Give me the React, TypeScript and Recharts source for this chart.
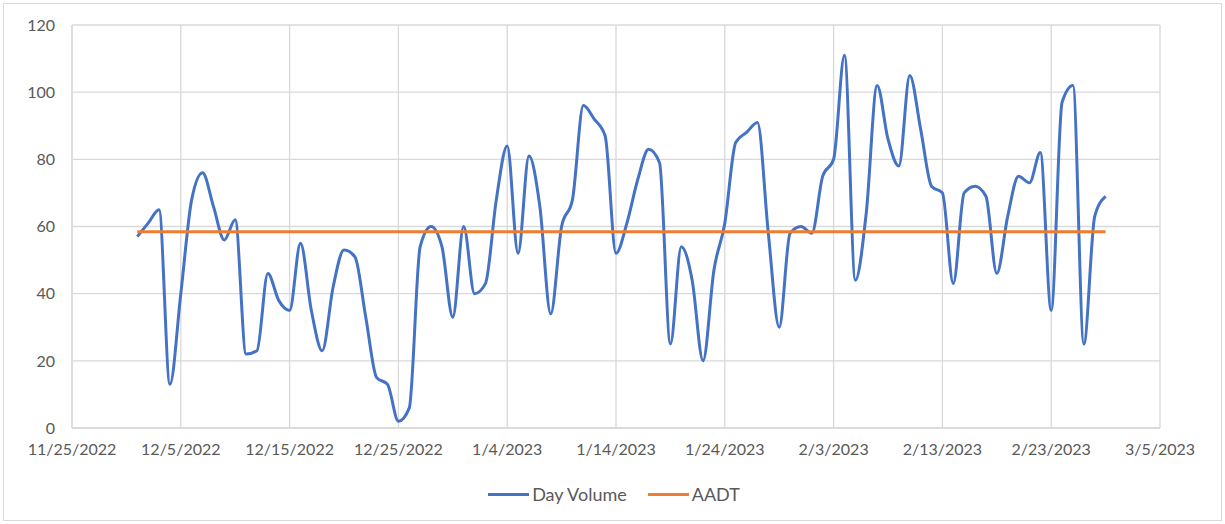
import {
  LineChart, Line,
  XAxis, YAxis,
  CartesianGrid, Legend,
} from 'recharts';

const COLOR_VOLUME = '#4472C4';
const COLOR_AADT = '#ED7D31';
const COLOR_GRID = '#D9D9D9';
const COLOR_TEXT = '#595959';
const FONT = 'Lato, "Open Sans", sans-serif';

const DAY = 86400000;
const FIRST_DAY = Date.UTC(2022, 11, 1); // 12/1/2022, one reading per day

// daily counts, 12/1/2022 .. 2/28/2023
const dayVolume = [
  57, 61, 65, 13, 40, 68, 76, 66, 56, 62,
  22, 23, 46, 38, 35, 55, 35, 23, 42, 53,
  51, 33, 15, 13, 2, 6, 54, 60, 54, 33,
  60, 40, 43, 68, 84, 52, 81, 66, 34, 60,
  68, 96, 92, 87, 52, 61, 74, 83, 79, 25,
  54, 44, 20, 47, 61, 85, 88, 91, 58, 30,
  58, 60, 58, 75, 80, 111, 44, 64, 102, 86,
  78, 105, 89, 72, 70, 43, 70, 72, 69, 46,
  63, 75, 73, 82, 35, 97, 102, 25, 63, 69,
];
const aadt = 58.4;

const xTicks = [
  Date.UTC(2022, 10, 25), Date.UTC(2022, 11, 5), Date.UTC(2022, 11, 15),
  Date.UTC(2022, 11, 25), Date.UTC(2023, 0, 4), Date.UTC(2023, 0, 14),
  Date.UTC(2023, 0, 24), Date.UTC(2023, 1, 3), Date.UTC(2023, 1, 13),
  Date.UTC(2023, 1, 23), Date.UTC(2023, 2, 5),
];
const yTicks = [0, 20, 40, 60, 80, 100, 120];

const data = dayVolume.map((v, i) => ({ t: FIRST_DAY + i * DAY, volume: v, aadt }));

const fmtDate = (t: number) => {
  const d = new Date(t);
  return `${d.getUTCMonth() + 1}/${d.getUTCDate()}/${d.getUTCFullYear()}`;
};

const tickStyle = { fill: COLOR_TEXT, fontSize: 16, fontFamily: FONT };

function LegendBox() {
  const items = [
    { name: 'Day Volume', color: COLOR_VOLUME },
    { name: 'AADT', color: COLOR_AADT },
  ];
  return (
    <div style={{ display: 'flex', justifyContent: 'center', gap: 21, paddingTop: 15, paddingLeft: 68, fontFamily: FONT, fontSize: 18, color: COLOR_TEXT }}>
      {items.map((it) => (
        <div key={it.name} style={{ display: 'flex', alignItems: 'center' }}>
          <span style={{ display: 'inline-block', width: 41, height: 3, background: it.color, marginRight: 3 }} />
          {it.name}
        </div>
      ))}
    </div>
  );
}

export default function App() {
  return (
    <div style={{ position: 'absolute', left: 0, top: 0, width: 1225, height: 524, background: '#fff' }}>
      <div style={{ position: 'absolute', left: 3, top: 3, width: 1217, height: 516, border: `1px solid ${COLOR_GRID}` }} />
      <LineChart
        width={1225}
        height={524}
        data={data}
        margin={{ top: 25, right: 65, bottom: 16, left: 0 }}
      >
        <CartesianGrid stroke={COLOR_GRID} strokeWidth={1.3} />
        <XAxis
          type="number"
          dataKey="t"
          domain={[xTicks[0], xTicks[xTicks.length - 1]]}
          ticks={xTicks}
          tickFormatter={fmtDate}
          tick={tickStyle}
          tickSize={0}
          tickMargin={16}
          stroke={COLOR_GRID}
          strokeWidth={1.3}
          height={40}
          interval={0}
        />
        <YAxis
          domain={[0, 120]}
          ticks={yTicks}
          tick={tickStyle}
          tickSize={0}
          tickMargin={17}
          stroke={COLOR_GRID}
          strokeWidth={1.3}
          width={72}
        />
        <Legend verticalAlign="bottom" height={40} content={() => <LegendBox />} />
        <Line
          type="monotone"
          dataKey="volume"
          name="Day Volume"
          stroke={COLOR_VOLUME}
          strokeWidth={3}
          dot={false}
          isAnimationActive={false}
        />
        <Line
          type="linear"
          dataKey="aadt"
          name="AADT"
          stroke={COLOR_AADT}
          strokeWidth={3}
          dot={false}
          isAnimationActive={false}
        />
      </LineChart>
    </div>
  );
}
